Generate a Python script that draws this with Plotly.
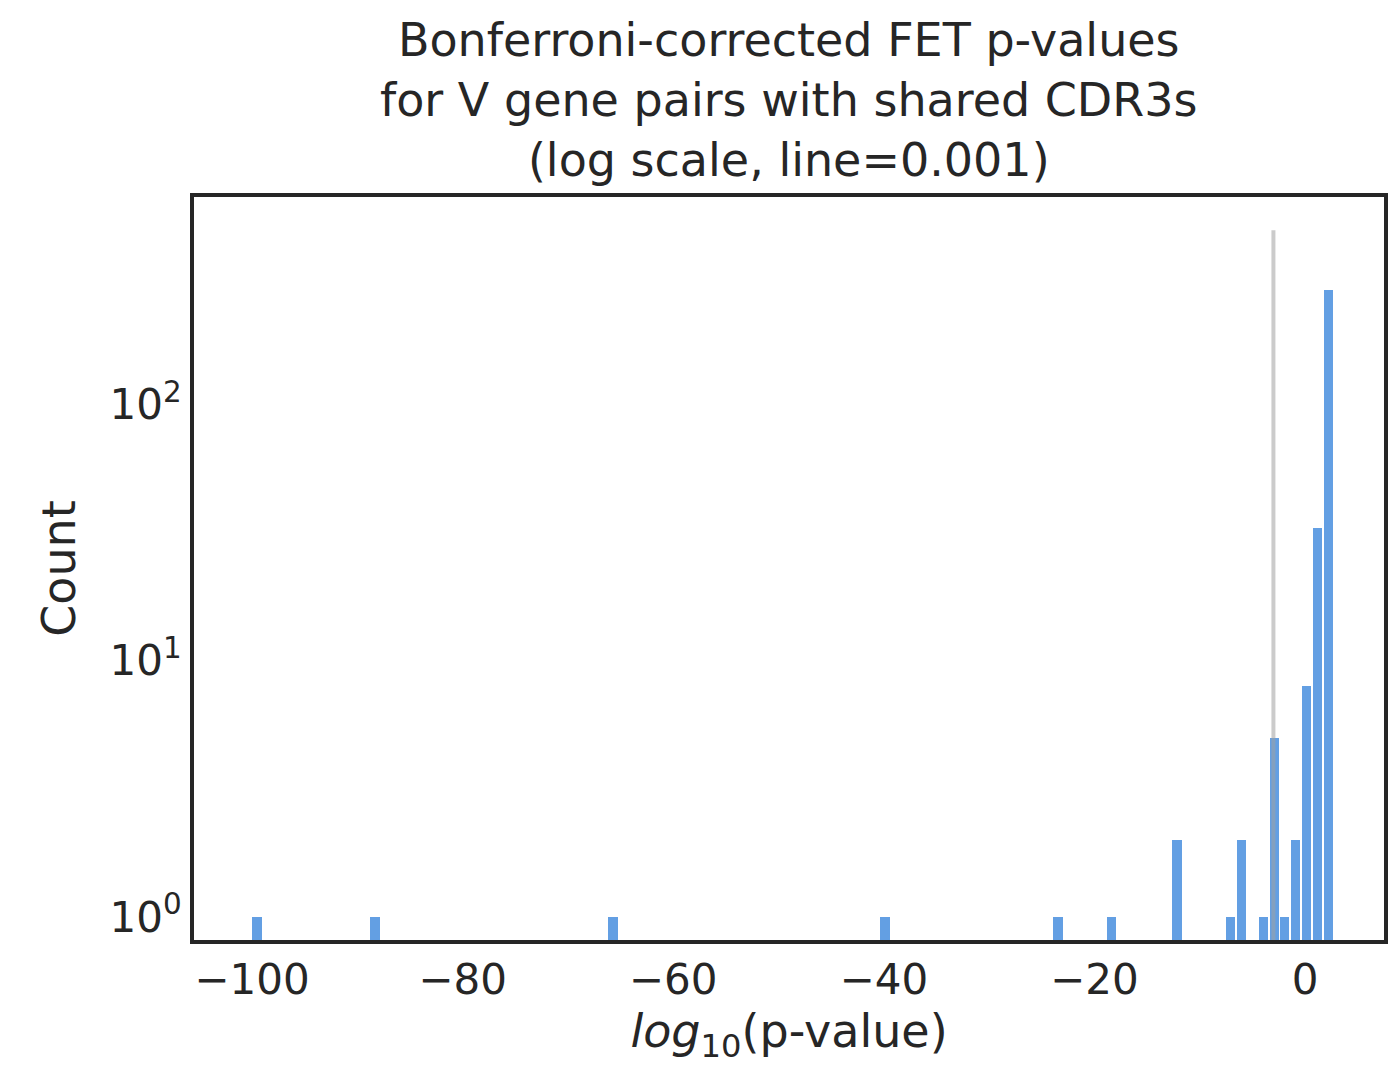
import plotly.graph_objects as go

# left edges of histogram bins (log10 p-value) and counts
bin_left = [-100.0, -88.8, -66.2, -40.4, -24.0, -18.9, -12.7, -7.6, -6.55,
            -4.46, -3.42, -2.47, -1.42, -0.38, 0.66, 1.71]
counts = [1, 1, 1, 1, 1, 1, 2, 1, 2, 1, 5, 1, 2, 8, 33, 280]
bin_w = 1.036
threshold = -3

fig = go.Figure()
fig.add_trace(go.Bar(
    x=[b + bin_w / 2 for b in bin_left], y=counts, width=bin_w * 0.9,
    marker=dict(color="rgba(60,135,220,0.8)", line=dict(width=0)),
    showlegend=False,
))
fig.add_trace(go.Scatter(
    x=[threshold, threshold], y=[0.5, 10 ** 2.68], mode="lines",
    line=dict(color="rgba(160,160,160,0.55)", width=4), showlegend=False,
))

font = "DejaVu Sans"
fig.update_layout(
    width=1398, height=1086,
    margin=dict(l=186, r=22, t=189, b=154),
    plot_bgcolor="white", paper_bgcolor="white",
    font=dict(family=font, size=42, color="#262626"),
    xaxis=dict(
        range=[-105.5, 7.5], tickvals=[-100, -80, -60, -40, -20, 0],
        ticktext=["−100", "−80", "−60", "−40", "−20", "0"],
        showgrid=False, zeroline=False, showline=True, mirror=True,
        linecolor="#262626", linewidth=4, ticks="",
        title=dict(text="<i>log</i><sub>10</sub>(p-value)", font=dict(size=46), standoff=8),
    ),
    yaxis=dict(
        type="log", range=[-0.09, 2.81], tickvals=[1, 10, 100],
        ticktext=["10<sup>0</sup>", "10<sup>1</sup>", "10<sup>2</sup>"],
        showgrid=False, zeroline=False, showline=True, mirror=True,
        linecolor="#262626", linewidth=4, ticks="",
        title=dict(text="Count", font=dict(size=46), standoff=20),
    ),
    bargap=0,
)
fig.add_annotation(
    text="Bonferroni-corrected FET p-values<br>for V gene pairs with shared CDR3s<br>(log scale, line=0.001)",
    xref="paper", yref="paper", x=0.5, y=1, xanchor="center", yanchor="bottom",
    yshift=8, showarrow=False, font=dict(size=46), align="center",
)

fig.write_html("out.html")
